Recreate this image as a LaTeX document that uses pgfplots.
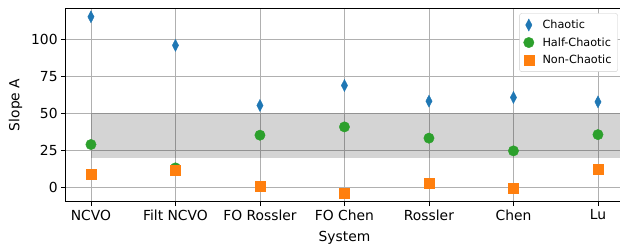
\documentclass[border=0pt]{standalone}
\usepackage{pgfplots}
\pgfplotsset{compat=1.18}
\usepackage{fontspec}
\setmainfont{DejaVu Sans}
\definecolor{tabblue}{HTML}{1F77B4}
\definecolor{taborange}{HTML}{FF7F0E}
\definecolor{tabgreen}{HTML}{2CA02C}
\begin{document}
\begin{tikzpicture}
\begin{axis}[
  name=ax,
  scale only axis,
  width=557.7bp, height=193.7bp,
  xmin=-0.3, xmax=6.3,
  ymin=-9.75, ymax=121.15,
  xtick={0,1,2,3,4,5,6},
  xticklabels={NCVO,Filt NCVO,FO Rossler,FO Chen,Rossler,Chen,Lu},
  ytick={0,25,50,75,100},
  /pgf/number format/assume math mode=true,
  tick label style={font=\fontsize{13.9}{15}\selectfont},
  label style={font=\fontsize{13.9}{15}\selectfont},
  xlabel={System}, ylabel={Slope A},
  xlabel style={at={(axis description cs:0.5,-0.186)}, anchor=center},
  ylabel style={at={(axis description cs:-0.0897,0.5)}, anchor=center},
  grid=major,
  major grid style={color=black!31, line width=0.8pt},
  axis line style={line width=0.8pt},
  tick style={color=black, line width=0.8pt},
  tick align=outside,
  major tick length=4.5bp,
  xtick pos=bottom, ytick pos=left,
  legend style={font=\fontsize{11.3}{13}\selectfont, draw=black!20, fill=white, rounded corners=2pt,
    at={(1,1)}, anchor=north east, xshift=-5.6bp, yshift=-5.3bp,
    row sep=3.5bp, inner xsep=4pt, inner ysep=4.5bp,
    /tikz/every odd column/.append style={column sep=6.5bp}},
  legend cell align=left,
  legend image code/.code={\draw[mark repeat=2,mark phase=2,#1] plot coordinates {(0cm,0cm) (0.25cm,0cm) (0.5cm,0cm)};},
]
\addplot[draw=none, fill=black, fill opacity=0.17, forget plot] coordinates {(0,20) (6.3,20) (6.3,50) (0,50)} -- cycle;
\addplot[only marks, mark=diamond*, mark size=6bp, mark options={xscale=0.7, draw=tabblue, fill=tabblue}] coordinates {
(0,115.2) (1,95.9) (2,55.3) (3,68.8) (4,58.2) (5,60.7) (6,57.7)};
\addplot[only marks, mark=*, mark size=5.2bp, mark options={draw=tabgreen, fill=tabgreen}] coordinates {
(0,28.9) (1,13.1) (2,35.2) (3,40.8) (4,33.2) (5,24.6) (6,35.6)};
\addplot[only marks, mark=square*, mark size=5bp, mark options={draw=taborange, fill=taborange}] coordinates {
(0,8.6) (1,11.7) (2,0.9) (3,-3.8) (4,2.7) (5,-0.5) (6,12.0)};
\legend{Chaotic,Half-Chaotic,Non-Chaotic}
\end{axis}
\pgfresetboundingbox
\path ([shift={(-65.6bp,-43.3bp)}]ax.south west) rectangle ([shift={(-3.3bp,8bp)}]ax.north east);
\end{tikzpicture}
\end{document}
